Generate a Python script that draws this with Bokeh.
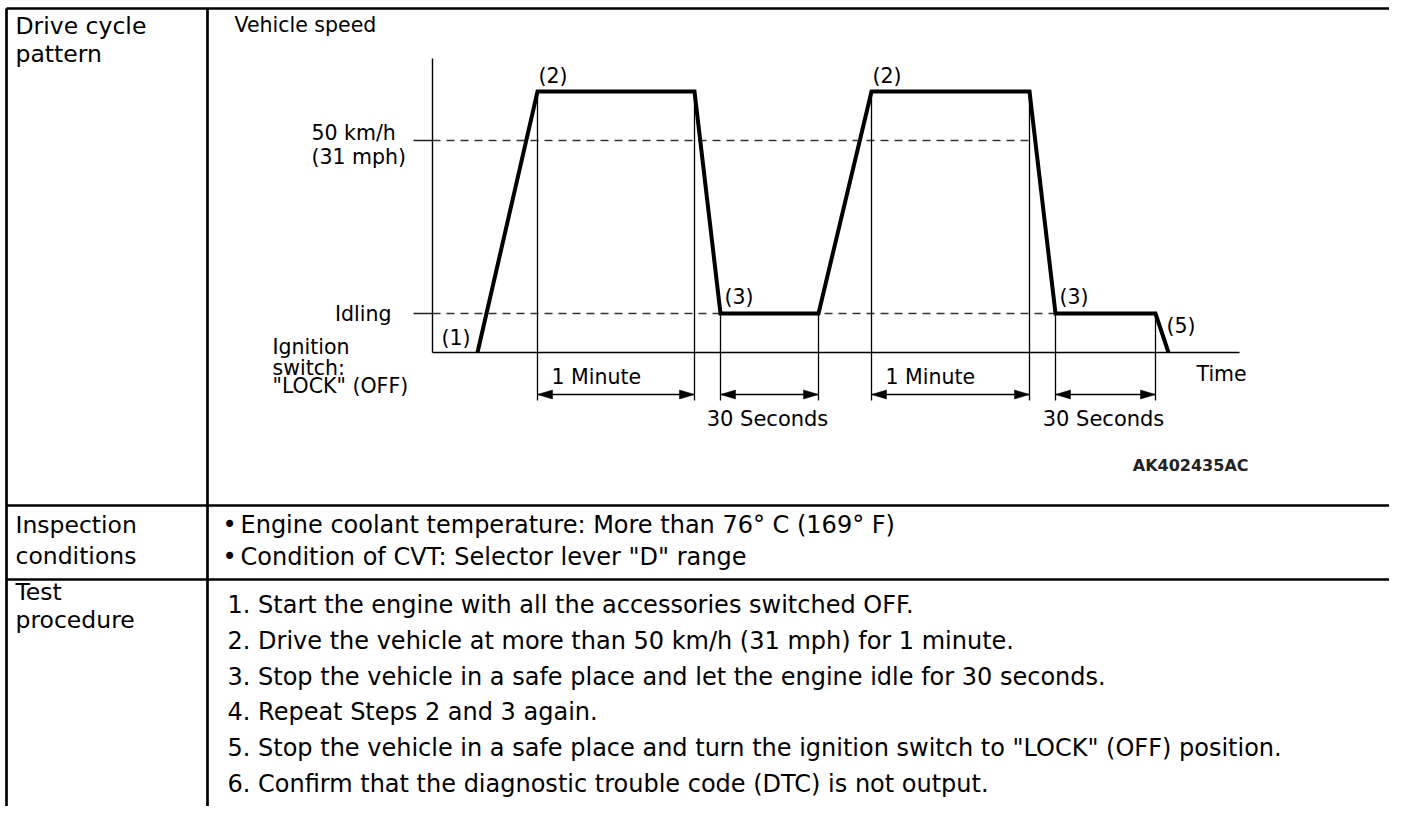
from bokeh.plotting import figure
from bokeh.models import Range1d
from bokeh.embed import file_html
from bokeh.resources import INLINE
from bokeh.core.properties import value
import numpy as np

FONT = "DejaVu Sans"

# ---------------- table content ----------------
row_labels = [["Drive cycle", "pattern"], ["Inspection", "conditions"], ["Test", "procedure"]]
inspection_items = ["Engine coolant temperature: More than 76° C (169° F)",
                    'Condition of CVT: Selector lever "D" range']
procedure_steps = [
    "1. Start the engine with all the accessories switched OFF.",
    "2. Drive the vehicle at more than 50 km/h (31 mph) for 1 minute.",
    "3. Stop the vehicle in a safe place and let the engine idle for 30 seconds.",
    "4. Repeat Steps 2 and 3 again.",
    '5. Stop the vehicle in a safe place and turn the ignition switch to "LOCK" (OFF) position.',
    "6. Confirm that the diagnostic trouble code (DTC) is not output.",
]

# ---------------- drive cycle (schematic units) ----------------
cycle_time = [45, 105, 262, 288, 386, 439, 597, 623, 723, 736]
cycle_speed = [0, 261, 261, 39, 39, 261, 261, 39, 39, 0]
speed_idle = 39
speed_50kmh = 212
time_axis_end = 807
speed_axis_top = 294
point_labels = ["(1)", "(2)", "(3)", "(2)", "(3)", "(5)"]
span_labels = ["1 Minute", "30 Seconds", "1 Minute", "30 Seconds"]
span_start = [105, 288, 439, 623]
span_end = [262, 386, 597, 723]
figure_id = "AK402435AC"

# ---------------- figure ----------------
W, H = 1389, 806
p = figure(width=W, height=H, x_range=Range1d(0, W), y_range=Range1d(H, 0),
           x_axis_type=None, y_axis_type=None, toolbar_location=None,
           output_backend="svg", min_border=0, outline_line_color=None)
p.grid.visible = False
p.background_fill_color = "white"
p.extra_x_ranges = {"t": Range1d(-432, W - 432)}
p.extra_y_ranges = {"v": Range1d(352 - H, 352)}
C = dict(x_range_name="t", y_range_name="v")

# table grid
tx0, tx1, ty0, ty1 = 6, W, 8, H
col_x = 207
row_y = [505, 579]
p.segment([tx0, tx0, col_x] + [tx0] * len(row_y),
          [ty0, ty0, ty0] + row_y,
          [tx1, tx0, col_x] + [tx1] * len(row_y),
          [ty0, ty1, ty1] + row_y,
          line_color="black", line_width=2.7)

LS = "23.5px"
TS = "24px"
label_y = [(25, 53), (524, 555), (591, 619)]
for lines, ys in zip(row_labels, label_y):
    p.text([15, 15], list(ys), text=lines, text_font=value(FONT), text_font_size=LS,
           text_baseline="middle", text_align="left", text_color="black")

ins_y = [524, 556]
p.text([222] * 2, ins_y, text=["•"] * 2, text_font=value(FONT), text_font_size=TS,
       text_baseline="middle", text_color="black")
p.text([240] * 2, ins_y, text=inspection_items, text_font=value(FONT), text_font_size=TS,
       text_baseline="middle", text_color="black")

proc_y = [604.5 + 35.8 * i for i in range(len(procedure_steps))]
p.text([227] * len(procedure_steps), proc_y, text=procedure_steps, text_font=value(FONT),
       text_font_size=TS, text_baseline="middle", text_color="black")

# ---------------- chart ----------------
CS = "20.5px"
ct = np.array(cycle_time, dtype=float)
cv = np.array(cycle_speed, dtype=float)

# axes
p.line([0, 0], [0, speed_axis_top], line_color="black", line_width=1.4, **C)
p.line([0, time_axis_end], [0, 0], line_color="black", line_width=1.4, **C)

# reference levels
i_fall = 6
cross_50 = ct[i_fall] + (cv[i_fall] - speed_50kmh) / (cv[i_fall] - cv[i_fall + 1]) * (ct[i_fall + 1] - ct[i_fall])
p.line([-19, 0], [speed_50kmh] * 2, line_color="#222222", line_width=1.5, **C)
p.line([0, cross_50], [speed_50kmh] * 2, line_color="#333333", line_width=1.5, line_dash="8 6", **C)
p.line([-19, 0], [speed_idle] * 2, line_color="#222222", line_width=1.5, **C)
p.line([0, span_start[3]], [speed_idle] * 2, line_color="#333333", line_width=1.5, line_dash="8 6", **C)

# span markers
arrow_v = -42
tick_bottom = -48
edges = span_start + span_end
tops = list(np.interp(edges, ct, cv))
p.segment(edges, tops, edges, [tick_bottom] * len(edges), line_color="black", line_width=1.3, **C)
p.segment(span_start, [arrow_v] * 4, span_end, [arrow_v] * 4, line_color="black", line_width=1.4, **C)
hl, hw = 15, 4.5
xs, ys = [], []
for a, b in zip(span_start, span_end):
    xs.append([a, a + hl, a + hl]); ys.append([arrow_v, arrow_v + hw, arrow_v - hw])
    xs.append([b, b - hl, b - hl]); ys.append([arrow_v, arrow_v + hw, arrow_v - hw])
p.patches(xs, ys, fill_color="black", line_color="black", line_width=0.5, **C)

# drive profile
p.line(ct, cv, line_color="black", line_width=4, line_join="miter", **C)

# labels
txt = dict(text_font=value(FONT), text_font_size=CS, text_color="black", text_baseline="middle")
p.text([-198], [328], text=["Vehicle speed"], text_align="left", **txt, **C)
p.text([-121, -121], [220, 196], text=["50 km/h", "(31 mph)"], text_align="left", **txt, **C)
p.text([-41], [speed_idle], text=["Idling"], text_align="right", **txt, **C)
p.text([-160] * 3, [6, -15, -33], text=["Ignition", "switch:", '"LOCK" (OFF)'], text_align="left", **txt, **C)
p.text([764], [-21], text=["Time"], text_align="left", **txt, **C)

p.text([38], [15], text=[point_labels[0]], text_align="right", **txt, **C)
lab_t = [106, 292, 440, 627, 734]
lab_v = [277, 56, 277, 56, 27]
p.text(lab_t, lab_v, text=point_labels[1:], text_align="left", **txt, **C)

for lbl, a, b in zip(span_labels, span_start, span_end):
    if lbl.startswith("1"):
        p.text([a + 14], [-24], text=[lbl], text_align="left", **txt, **C)
    else:
        p.text([(a + b) / 2 - 2], [-66], text=[lbl], text_align="center",
               text_font=value(FONT), text_font_size="21px", text_color="black",
               text_baseline="middle", **C)

p.text([816], [-113], text=[figure_id], text_align="right", text_font=value(FONT),
       text_font_size="16px", text_font_style="bold", text_color="#222222",
       text_baseline="middle", **C)

open("out.html", "w").write(file_html(p, INLINE))
